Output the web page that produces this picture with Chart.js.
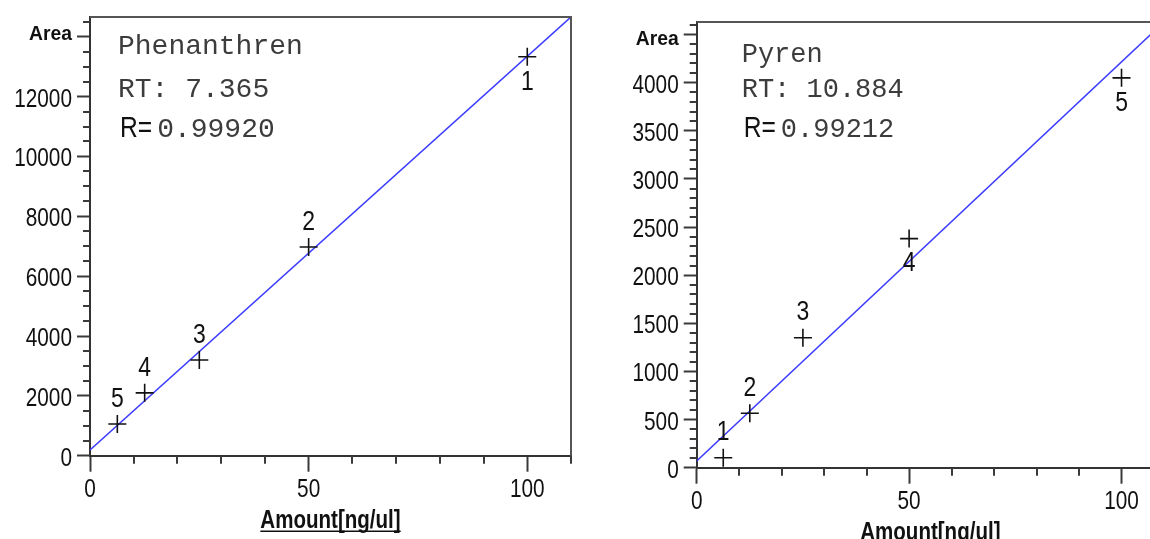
<!DOCTYPE html>
<html><head><meta charset="utf-8">
<script src="https://cdn.jsdelivr.net/npm/chart.js@4.4.1/dist/chart.umd.min.js"></script>
<style>
html,body{margin:0;padding:0;background:#fff;overflow:hidden;width:1150px;height:539px;position:relative;}
#c1{position:absolute;left:0;top:0;}
#c2{position:absolute;left:600px;top:0;}
</style></head><body>
<canvas id="c1" width="595" height="539"></canvas>
<canvas id="c2" width="600" height="560"></canvas>
<script>
// ---------- data: Phenanthren ----------
const phenAmount = [6.25, 12.5, 25, 50, 100];
const phenArea = [1060, 2100, 3200, 6975, 13330];
const phenLevel = ['5', '4', '3', '2', '1'];
const phenLabelSide = ['above', 'above', 'above', 'above', 'below'];
const phenFitAmount = [0, 110];
const phenFitArea = [190, 14660];
const phenYTicks = [0, 2000, 4000, 6000, 8000, 10000, 12000];
const phenYAreaTick = 14000;
const phenYMinorStep = 500;
const phenYMax = 14660;
const phenName = 'Phenanthren';
const phenRT = '7.365';
const phenR = '0.99920';

// ---------- data: Pyren ----------
const pyrAmount = [6.25, 12.5, 25, 50, 100];
const pyrArea = [104, 565, 1350, 2380, 4050];
const pyrLevel = ['1', '2', '3', '4', '5'];
const pyrLabelSide = ['above', 'above', 'above', 'below', 'below'];
const pyrFitAmount = [0, 110];
const pyrFitArea = [70, 4630];
const pyrYTicks = [0, 500, 1000, 1500, 2000, 2500, 3000, 3500, 4000];
const pyrYAreaTick = 4500;
const pyrYMinorStep = 100;
const pyrYMax = 4630;
const pyrName = 'Pyren';
const pyrRT = '10.884';
const pyrR = '0.99212';

// ---------- shared x axis ----------
const xTicks = [0, 50, 100];
const xMinorStep = 10;
const xMax = 110;
const xTitle = 'Amount[ng/ul]';
const yTitle = 'Area';

const SANS = "'Liberation Sans', Arial, sans-serif";
const MONO = "'Liberation Mono', 'DejaVu Sans Mono', monospace";
const AXIS_COLOR = '#333';
const TICK_COLOR = '#3a3a3a';

function stepTicks(max, step) {
  const t = [];
  for (let i = 0; i * step <= max + 1e-9; i++) t.push({ value: i * step });
  return t;
}

// condensed text helper (the original uses a narrow face)
function txt(ctx, s, x, y, font, align, baseline, k, color) {
  ctx.save();
  ctx.font = font;
  ctx.fillStyle = color || '#111';
  ctx.textAlign = align;
  ctx.textBaseline = baseline;
  ctx.translate(x, y);
  ctx.scale(k, 1);
  ctx.fillText(s, 0, 0);
  const w = ctx.measureText(s).width * k;
  ctx.restore();
  return w;
}

const decorPlugin = {
  id: 'decor',
  afterDraw(chart, args, o) {
    const { ctx, chartArea: a, scales: { x, y } } = chart;
    ctx.save();
    // frame top & right
    ctx.strokeStyle = '#555';
    ctx.lineWidth = 2;
    ctx.beginPath();
    ctx.moveTo(a.left, a.top);
    ctx.lineTo(a.right, a.top);
    ctx.lineTo(a.right, a.bottom);
    ctx.stroke();
    // minor ticks
    ctx.strokeStyle = TICK_COLOR;
    ctx.lineWidth = 2;
    y.ticks.forEach(t => {
      if (o.yMajor.includes(t.value) || t.value === o.yArea) return;
      const py = Math.round(y.getPixelForValue(t.value));
      ctx.beginPath(); ctx.moveTo(a.left - 7, py); ctx.lineTo(a.left, py); ctx.stroke();
    });
    x.ticks.forEach(t => {
      if (xTicks.includes(t.value)) return;
      const px = Math.round(x.getPixelForValue(t.value));
      ctx.beginPath(); ctx.moveTo(px, a.bottom); ctx.lineTo(px, a.bottom + 8); ctx.stroke();
    });
    ctx.restore();

    // y tick labels
    o.yMajor.forEach(v => {
      txt(ctx, String(v), a.left - 18, y.getPixelForValue(v) + 10, '26px ' + SANS, 'right', 'alphabetic', 0.8);
    });
    txt(ctx, yTitle, a.left - 18, a.top + 23, 'bold 21px ' + SANS, 'right', 'alphabetic', 0.92);
    // x tick labels
    xTicks.forEach(v => {
      txt(ctx, String(v), x.getPixelForValue(v), a.bottom + 41, '26px ' + SANS, 'center', 'alphabetic', 0.8);
    });
    // x title + underline
    const cx = (a.left + a.right) / 2;
    const tw = txt(ctx, xTitle, cx, a.bottom + 72, 'bold 26px ' + SANS, 'center', 'alphabetic', 0.79);
    ctx.save();
    ctx.strokeStyle = '#111';
    ctx.lineWidth = 1.5;
    ctx.beginPath(); ctx.moveTo(cx - tw / 2, a.bottom + 75.5); ctx.lineTo(cx + tw / 2, a.bottom + 75.5); ctx.stroke();
    ctx.restore();

    // point labels
    const meta = chart.getDatasetMeta(0);
    meta.data.forEach((el, i) => {
      const dy = o.sides[i] === 'above' ? -25 : 25;
      txt(ctx, o.levels[i], el.x, el.y + dy, '28px ' + SANS, 'center', 'middle', 0.82);
    });

    // info text
    const x0 = a.left + o.infoX;
    const mono = o.monoSize + 'px ' + MONO;
    txt(ctx, o.name, x0, o.base[0], mono, 'left', 'alphabetic', 1, '#3c3c3c');
    txt(ctx, 'RT: ' + o.rt, x0, o.base[1], mono, 'left', 'alphabetic', 1, '#3c3c3c');
    const rw = txt(ctx, 'R=', x0 + 2, o.base[2], '30px ' + SANS, 'left', 'alphabetic', 0.82, '#111');
    txt(ctx, o.r, x0 + 2 + rw + 5, o.base[2], mono, 'left', 'alphabetic', 1, '#3c3c3c');
  }
};

function makeChart(id, cfg) {
  const isMajorY = v => cfg.yMajor.includes(v) || v === cfg.yArea;
  return new Chart(document.getElementById(id), {
    type: 'scatter',
    data: {
      datasets: [
        {
          data: cfg.amount.map((v, i) => ({ x: v, y: cfg.area[i] })),
          pointStyle: 'cross',
          pointRadius: 9,
          pointHoverRadius: 9,
          pointBorderColor: '#111',
          pointBorderWidth: 1.6,
          showLine: false,
          order: 0
        },
        {
          data: cfg.fitX.map((v, i) => ({ x: v, y: cfg.fitY[i] })),
          showLine: true,
          borderColor: '#3c3cff',
          borderWidth: 1.6,
          pointRadius: 0,
          order: 1
        }
      ]
    },
    options: {
      responsive: false,
      animation: false,
      events: [],
      layout: { padding: { top: cfg.top, right: cfg.right, left: 0, bottom: 0 } },
      plugins: {
        legend: { display: false },
        tooltip: { enabled: false },
        decor: cfg.decor
      },
      scales: {
        x: {
          type: 'linear',
          min: 0,
          max: xMax,
          afterBuildTicks: s => { s.ticks = stepTicks(xMax, xMinorStep); },
          afterFit: s => { s.height = cfg.xHeight; },
          border: { display: true, color: AXIS_COLOR, width: 2 },
          grid: {
            display: true, drawOnChartArea: false, drawTicks: true,
            tickLength: 16, tickWidth: 2,
            tickColor: c => (c.tick && xTicks.includes(c.tick.value)) ? TICK_COLOR : 'rgba(0,0,0,0)'
          },
          ticks: { display: false, autoSkip: false, maxRotation: 0 },
          title: { display: false }
        },
        y: {
          type: 'linear',
          min: 0,
          max: cfg.yMax,
          afterBuildTicks: s => { s.ticks = stepTicks(cfg.yMax, cfg.yStep); },
          afterFit: s => { s.width = cfg.yWidth; },
          border: { display: true, color: AXIS_COLOR, width: 2 },
          grid: {
            display: true, drawOnChartArea: false, drawTicks: true,
            tickLength: 13, tickWidth: 2,
            tickColor: c => (c.tick && isMajorY(c.tick.value)) ? TICK_COLOR : 'rgba(0,0,0,0)'
          },
          ticks: { display: false, autoSkip: false }
        }
      }
    },
    plugins: [decorPlugin]
  });
}

makeChart('c1', {
  amount: phenAmount, area: phenArea, fitX: phenFitAmount, fitY: phenFitArea,
  yMajor: phenYTicks, yArea: phenYAreaTick, yStep: phenYMinorStep, yMax: phenYMax,
  top: 17, right: 24, yWidth: 90, xHeight: 539 - 455.7,
  decor: {
    yMajor: phenYTicks, yArea: phenYAreaTick, levels: phenLevel, sides: phenLabelSide,
    name: phenName, rt: phenRT, r: phenR, infoX: 28, monoSize: 28, base: [54, 97, 137]
  }
});

makeChart('c2', {
  amount: pyrAmount, area: pyrArea, fitX: pyrFitAmount, fitY: pyrFitArea,
  yMajor: pyrYTicks, yArea: pyrYAreaTick, yStep: pyrYMinorStep, yMax: pyrYMax,
  top: 22, right: 36, yWidth: 96.7, xHeight: 560 - 467.7,
  decor: {
    yMajor: pyrYTicks, yArea: pyrYAreaTick, levels: pyrLevel, sides: pyrLabelSide,
    name: pyrName, rt: pyrRT, r: pyrR, infoX: 45, monoSize: 27, base: [62, 97, 137]
  }
});
</script>
</body></html>
